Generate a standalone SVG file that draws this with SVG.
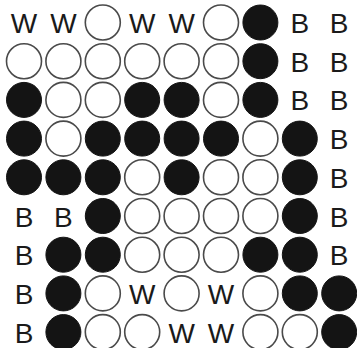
<svg xmlns="http://www.w3.org/2000/svg" width="357" height="348" viewBox="0 0 357 348">
<style>
.w{fill:#fff;stroke:#4a4a4a;stroke-width:1.6}
.b{fill:#141414;stroke:#141414;stroke-width:1}
.t{font-family:"Liberation Sans",Arial,sans-serif;font-size:28px;fill:#1a1a1a;text-anchor:middle}
</style>
<rect width="357" height="348" fill="#fff"/>
<g id="connectors"/>
<g id="r1">
<g id="n1_1"><text class="t" x="24" y="33">W</text></g>
<g id="n1_2"><text class="t" x="63.4" y="33">W</text></g>
<g id="n1_3"><circle class="w" cx="102.8" cy="22.5" r="17.5"/></g>
<g id="n1_4"><text class="t" x="142.2" y="33">W</text></g>
<g id="n1_5"><text class="t" x="181.6" y="33">W</text></g>
<g id="n1_6"><circle class="w" cx="221" cy="22.5" r="17.5"/></g>
<g id="n1_7"><circle class="b" cx="260.4" cy="22.5" r="17.5"/></g>
<g id="n1_8"><text class="t" x="299.8" y="33">B</text></g>
<g id="n1_9"><text class="t" x="339.2" y="33">B</text></g>
</g>
<g id="r2">
<g id="n2_1"><circle class="w" cx="24" cy="61.2" r="17.5"/></g>
<g id="n2_2"><circle class="w" cx="63.4" cy="61.2" r="17.5"/></g>
<g id="n2_3"><circle class="w" cx="102.8" cy="61.2" r="17.5"/></g>
<g id="n2_4"><circle class="w" cx="142.2" cy="61.2" r="17.5"/></g>
<g id="n2_5"><circle class="w" cx="181.6" cy="61.2" r="17.5"/></g>
<g id="n2_6"><circle class="w" cx="221" cy="61.2" r="17.5"/></g>
<g id="n2_7"><circle class="b" cx="260.4" cy="61.2" r="17.5"/></g>
<g id="n2_8"><text class="t" x="299.8" y="71.7">B</text></g>
<g id="n2_9"><text class="t" x="339.2" y="71.7">B</text></g>
</g>
<g id="r3">
<g id="n3_1"><circle class="b" cx="24" cy="99.9" r="17.5"/></g>
<g id="n3_2"><circle class="w" cx="63.4" cy="99.9" r="17.5"/></g>
<g id="n3_3"><circle class="w" cx="102.8" cy="99.9" r="17.5"/></g>
<g id="n3_4"><circle class="b" cx="142.2" cy="99.9" r="17.5"/></g>
<g id="n3_5"><circle class="b" cx="181.6" cy="99.9" r="17.5"/></g>
<g id="n3_6"><circle class="w" cx="221" cy="99.9" r="17.5"/></g>
<g id="n3_7"><circle class="b" cx="260.4" cy="99.9" r="17.5"/></g>
<g id="n3_8"><text class="t" x="299.8" y="110.4">B</text></g>
<g id="n3_9"><text class="t" x="339.2" y="110.4">B</text></g>
</g>
<g id="r4">
<g id="n4_1"><circle class="b" cx="24" cy="138.6" r="17.5"/></g>
<g id="n4_2"><circle class="w" cx="63.4" cy="138.6" r="17.5"/></g>
<g id="n4_3"><circle class="b" cx="102.8" cy="138.6" r="17.5"/></g>
<g id="n4_4"><circle class="b" cx="142.2" cy="138.6" r="17.5"/></g>
<g id="n4_5"><circle class="b" cx="181.6" cy="138.6" r="17.5"/></g>
<g id="n4_6"><circle class="b" cx="221" cy="138.6" r="17.5"/></g>
<g id="n4_7"><circle class="w" cx="260.4" cy="138.6" r="17.5"/></g>
<g id="n4_8"><circle class="b" cx="299.8" cy="138.6" r="17.5"/></g>
<g id="n4_9"><text class="t" x="339.2" y="149.1">B</text></g>
</g>
<g id="r5">
<g id="n5_1"><circle class="b" cx="24" cy="177.3" r="17.5"/></g>
<g id="n5_2"><circle class="b" cx="63.4" cy="177.3" r="17.5"/></g>
<g id="n5_3"><circle class="b" cx="102.8" cy="177.3" r="17.5"/></g>
<g id="n5_4"><circle class="w" cx="142.2" cy="177.3" r="17.5"/></g>
<g id="n5_5"><circle class="b" cx="181.6" cy="177.3" r="17.5"/></g>
<g id="n5_6"><circle class="w" cx="221" cy="177.3" r="17.5"/></g>
<g id="n5_7"><circle class="w" cx="260.4" cy="177.3" r="17.5"/></g>
<g id="n5_8"><circle class="b" cx="299.8" cy="177.3" r="17.5"/></g>
<g id="n5_9"><text class="t" x="339.2" y="187.8">B</text></g>
</g>
<g id="r6">
<g id="n6_1"><text class="t" x="24" y="226.5">B</text></g>
<g id="n6_2"><text class="t" x="63.4" y="226.5">B</text></g>
<g id="n6_3"><circle class="b" cx="102.8" cy="216" r="17.5"/></g>
<g id="n6_4"><circle class="w" cx="142.2" cy="216" r="17.5"/></g>
<g id="n6_5"><circle class="w" cx="181.6" cy="216" r="17.5"/></g>
<g id="n6_6"><circle class="w" cx="221" cy="216" r="17.5"/></g>
<g id="n6_7"><circle class="w" cx="260.4" cy="216" r="17.5"/></g>
<g id="n6_8"><circle class="b" cx="299.8" cy="216" r="17.5"/></g>
<g id="n6_9"><text class="t" x="339.2" y="226.5">B</text></g>
</g>
<g id="r7">
<g id="n7_1"><text class="t" x="24" y="265.2">B</text></g>
<g id="n7_2"><circle class="b" cx="63.4" cy="254.7" r="17.5"/></g>
<g id="n7_3"><circle class="b" cx="102.8" cy="254.7" r="17.5"/></g>
<g id="n7_4"><circle class="w" cx="142.2" cy="254.7" r="17.5"/></g>
<g id="n7_5"><circle class="w" cx="181.6" cy="254.7" r="17.5"/></g>
<g id="n7_6"><circle class="w" cx="221" cy="254.7" r="17.5"/></g>
<g id="n7_7"><circle class="b" cx="260.4" cy="254.7" r="17.5"/></g>
<g id="n7_8"><circle class="b" cx="299.8" cy="254.7" r="17.5"/></g>
<g id="n7_9"><text class="t" x="339.2" y="265.2">B</text></g>
</g>
<g id="r8">
<g id="n8_1"><text class="t" x="24" y="303.9">B</text></g>
<g id="n8_2"><circle class="b" cx="63.4" cy="293.4" r="17.5"/></g>
<g id="n8_3"><circle class="w" cx="102.8" cy="293.4" r="17.5"/></g>
<g id="n8_4"><text class="t" x="142.2" y="303.9">W</text></g>
<g id="n8_5"><circle class="w" cx="181.6" cy="293.4" r="17.5"/></g>
<g id="n8_6"><text class="t" x="221" y="303.9">W</text></g>
<g id="n8_7"><circle class="w" cx="260.4" cy="293.4" r="17.5"/></g>
<g id="n8_8"><circle class="b" cx="299.8" cy="293.4" r="17.5"/></g>
<g id="n8_9"><circle class="b" cx="339.2" cy="293.4" r="17.5"/></g>
</g>
<g id="r9">
<g id="n9_1"><text class="t" x="24" y="342.6">B</text></g>
<g id="n9_2"><circle class="b" cx="63.4" cy="332.1" r="17.5"/></g>
<g id="n9_3"><circle class="w" cx="102.8" cy="332.1" r="17.5"/></g>
<g id="n9_4"><circle class="w" cx="142.2" cy="332.1" r="17.5"/></g>
<g id="n9_5"><text class="t" x="181.6" y="342.6">W</text></g>
<g id="n9_6"><text class="t" x="221" y="342.6">W</text></g>
<g id="n9_7"><circle class="w" cx="260.4" cy="332.1" r="17.5"/></g>
<g id="n9_8"><circle class="w" cx="299.8" cy="332.1" r="17.5"/></g>
<g id="n9_9"><circle class="b" cx="339.2" cy="332.1" r="17.5"/></g>
</g>
</svg>
